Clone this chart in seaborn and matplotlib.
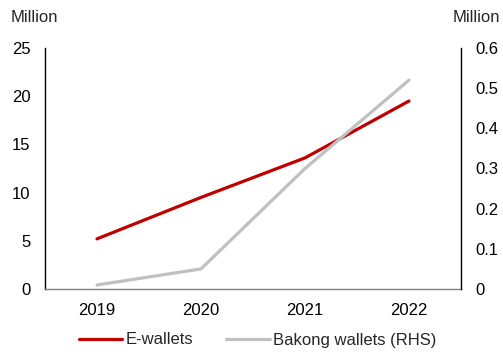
import matplotlib
matplotlib.use("Agg")
import matplotlib.pyplot as plt
import seaborn as sns
import pandas as pd

years = ["2019", "2020", "2021", "2022"]
e_wallets = [5.2, 9.5, 13.6, 19.5]
bakong_wallets = [0.01, 0.05, 0.30, 0.52]

sns.set_theme(style="white")
plt.rcParams["font.family"] = ["Liberation Sans", "DejaVu Sans"]
FS = 12

df = pd.DataFrame({"year": years, "e": e_wallets, "b": bakong_wallets})

fig = plt.figure(figsize=(5.03, 3.52), dpi=100)
ax = fig.add_axes([45 / 503, 1 - 289 / 352, (461 - 45) / 503, (289 - 48) / 352])
ax2 = ax.twinx()

sns.lineplot(data=df, x="year", y="e", ax=ax, color="#C00000", lw=2.3,
             sort=False, label="E-wallets", legend=False)
sns.lineplot(data=df, x="year", y="b", ax=ax2, color="#C0C0C0", lw=2.3,
             sort=False, label="Bakong wallets (RHS)", legend=False)

ax.set_xlim(-0.5, 3.5)
ax.set_ylim(0, 25)
ax.set_yticks(range(0, 26, 5))
ax2.set_ylim(0, 0.6)
ax2.set_yticks([0, 0.1, 0.2, 0.3, 0.4, 0.5, 0.6])
ax2.set_yticklabels(["0", "0.1", "0.2", "0.3", "0.4", "0.5", "0.6"])

for a in (ax, ax2):
    a.set_xlabel("")
    a.set_ylabel("")
    a.tick_params(length=0, labelsize=FS, colors="black")
    a.grid(False)
    for s in a.spines.values():
        s.set_visible(False)
ax.tick_params(axis="y", pad=10.5)
ax.tick_params(axis="x", pad=10)
ax2.tick_params(axis="y", pad=10)

ax.spines["left"].set_visible(True)
ax.spines["left"].set_color("black")
ax.spines["left"].set_linewidth(1.0)
ax2.spines["right"].set_visible(True)
ax2.spines["right"].set_color("black")
ax2.spines["right"].set_linewidth(1.0)
ax.spines["bottom"].set_visible(True)
ax.spines["bottom"].set_color("#808080")
ax.spines["bottom"].set_linewidth(1.0)

fig.text(11 / 503, 1 - 18 / 352, "Million", fontsize=FS, va="center", ha="left")
fig.text(500 / 503, 1 - 18 / 352, "Million", fontsize=FS, va="center", ha="right")

h1, l1 = ax.get_legend_handles_labels()
h2, l2 = ax2.get_legend_handles_labels()
fig.legend(h1 + h2, l1 + l2, loc="center", bbox_to_anchor=(0.512, 1 - 340 / 352),
           ncol=2, frameon=False, fontsize=FS, handlelength=2.6,
           handletextpad=0.2, columnspacing=2.0)

fig.savefig("out.png", dpi=100)
